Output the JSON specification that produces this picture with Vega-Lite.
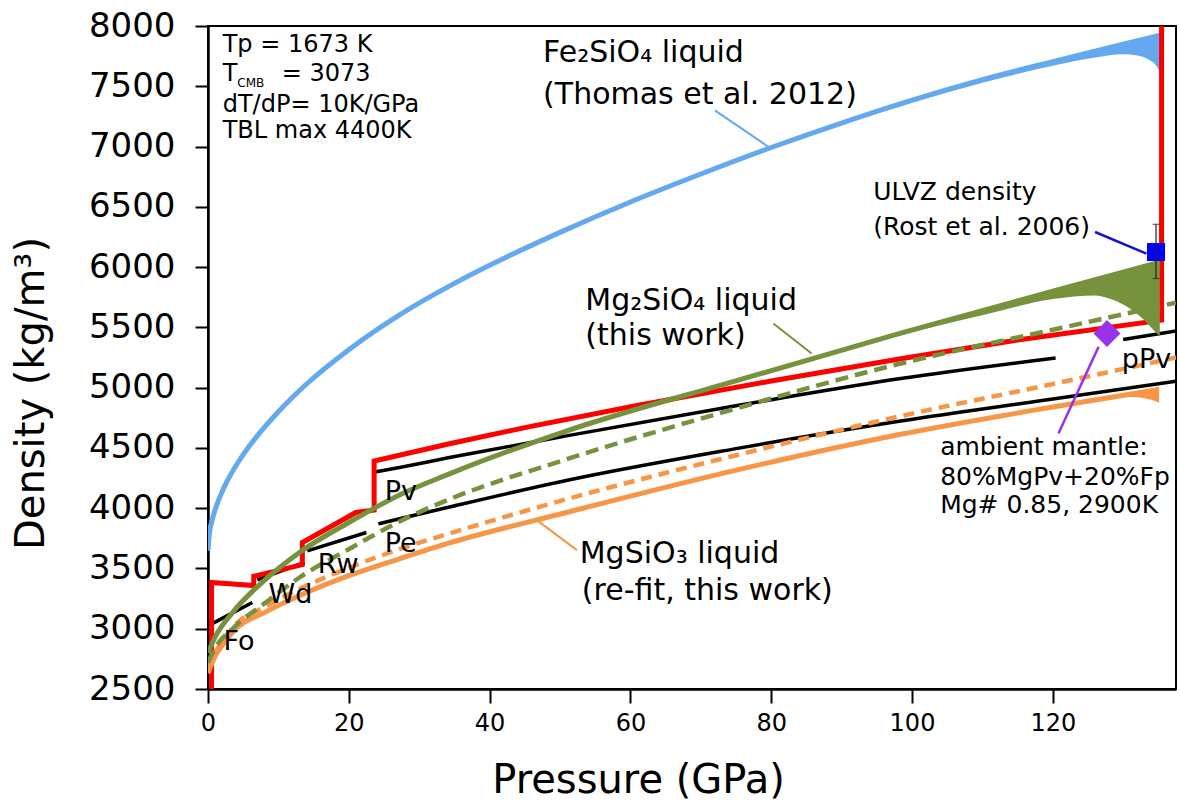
{
  "$schema": "https://vega.github.io/schema/vega-lite/v6.json",
  "width": 968,
  "height": 663,
  "autosize": {"type": "none"},
  "padding": {"left": 208, "top": 26, "right": 4, "bottom": 123},
  "background": "white",
  "config": {
    "view": {"stroke": "black", "strokeWidth": 2},
    "font": "DejaVu Sans",
    "axis": {"grid": false, "domainColor": "black", "tickColor": "black", "labelColor": "black", "titleColor": "black", "labelFont": "DejaVu Sans", "titleFont": "DejaVu Sans", "titleFontWeight": "normal", "domainWidth": 2.5, "tickWidth": 2}
  },
  "datasets": {
    "blue": [{"P":0,"D":3646},{"P":0.2,"D":3790},{"P":0.5,"D":3880},{"P":1,"D":3985},{"P":2,"D":4137},{"P":3.4,"D":4297},{"P":5,"D":4445},{"P":7,"D":4600},{"P":10,"D":4800},{"P":14,"D":5030},{"P":20,"D":5315},{"P":27.1,"D":5600},{"P":35,"D":5865},{"P":40,"D":6015},{"P":50,"D":6288},{"P":60,"D":6540},{"P":70,"D":6772},{"P":80,"D":6992},{"P":90,"D":7195},{"P":100,"D":7385},{"P":110,"D":7555},{"P":120,"D":7705},{"P":130,"D":7850},{"P":135.4,"D":7925}],
    "blueBand": [{"P":80,"D":6994,"D2":6990},{"P":95,"D":7292,"D2":7275},{"P":110,"D":7562,"D2":7530},{"P":120,"D":7715,"D2":7670},{"P":126,"D":7800,"D2":7738},{"P":130,"D":7858,"D2":7765},{"P":132,"D":7882,"D2":7755},{"P":133.5,"D":7900,"D2":7725},{"P":134.5,"D":7912,"D2":7685},{"P":135.1,"D":7920,"D2":7630},{"P":135.4,"D":7926,"D2":7580}],
    "green": [{"P":0,"D":2800},{"P":1,"D":2930},{"P":3.5,"D":3135},{"P":8.2,"D":3411},{"P":13,"D":3633},{"P":20,"D":3881},{"P":27.2,"D":4110},{"P":34.3,"D":4285},{"P":50.9,"D":4640},{"P":74.6,"D":5050},{"P":98.4,"D":5452},{"P":120,"D":5800},{"P":135.2,"D":6040}],
    "greenBand": [{"P":90,"D":5308,"D2":5300},{"P":100,"D":5485,"D2":5460},{"P":110,"D":5648,"D2":5600},{"P":120,"D":5812,"D2":5735},{"P":126,"D":5910,"D2":5765},{"P":128,"D":5940,"D2":5740},{"P":130,"D":5970,"D2":5690},{"P":132,"D":5998,"D2":5610},{"P":133.5,"D":6018,"D2":5530},{"P":134.5,"D":6032,"D2":5465},{"P":135.2,"D":6045,"D2":5425}],
    "greenDash": [{"P":0,"D":2720},{"P":1,"D":2840},{"P":3.5,"D":3000},{"P":8.2,"D":3218},{"P":13,"D":3425},{"P":20,"D":3660},{"P":27.2,"D":3890},{"P":34.3,"D":4074},{"P":50.9,"D":4405},{"P":74.6,"D":4820},{"P":98.4,"D":5200},{"P":120,"D":5480},{"P":137.5,"D":5705}],
    "orange": [{"P":0,"D":2630},{"P":1,"D":2770},{"P":2,"D":2860},{"P":3.5,"D":2972},{"P":8.2,"D":3140},{"P":13,"D":3275},{"P":20,"D":3440},{"P":27.2,"D":3580},{"P":34.3,"D":3712},{"P":50.9,"D":3964},{"P":74.6,"D":4309},{"P":98.4,"D":4613},{"P":120,"D":4840},{"P":135,"D":4985}],
    "orangeBand": [{"P":126,"D":4900,"D2":4898},{"P":130,"D":4945,"D2":4925},{"P":132,"D":4965,"D2":4920},{"P":133.5,"D":4985,"D2":4905},{"P":134.5,"D":4998,"D2":4890},{"P":135.1,"D":5005,"D2":4875}],
    "orangeDash": [{"P":0,"D":2660},{"P":1,"D":2800},{"P":2,"D":2890},{"P":3.5,"D":3010},{"P":8.2,"D":3185},{"P":13,"D":3330},{"P":20,"D":3505},{"P":27.2,"D":3660},{"P":34.3,"D":3790},{"P":50.9,"D":4074},{"P":74.6,"D":4433},{"P":98.4,"D":4764},{"P":120,"D":5030},{"P":137.5,"D":5250}],
    "black": [
      {"seg":"Fo","P":0,"D":3024},{"seg":"Fo","P":6.3,"D":3218},
      {"seg":"Wd","P":7,"D":3405},{"seg":"Wd","P":13.7,"D":3550},
      {"seg":"Rw","P":14.1,"D":3646},{"seg":"Rw","P":22.5,"D":3798},
      {"seg":"Pv","P":23.7,"D":4300},{"seg":"Pv","P":27.2,"D":4338},{"seg":"Pv","P":34.3,"D":4420},{"seg":"Pv","P":50.9,"D":4600},{"seg":"Pv","P":74.6,"D":4845},{"seg":"Pv","P":98.4,"D":5075},{"seg":"Pv","P":120.4,"D":5245},
      {"seg":"Pe","P":24.2,"D":3870},{"seg":"Pe","P":27.2,"D":3912},{"seg":"Pe","P":34.3,"D":4010},{"seg":"Pe","P":50.9,"D":4230},{"seg":"Pe","P":74.6,"D":4490},{"seg":"Pe","P":98.4,"D":4723},{"seg":"Pe","P":120,"D":4905},{"seg":"Pe","P":137.5,"D":5054},
      {"seg":"pPv","P":130,"D":5400},{"seg":"pPv","P":137.5,"D":5470}
    ],
    "red": [{"i":1,"P":0.5,"D":2500},{"i":2,"P":0.5,"D":3384},{"i":3,"P":6.5,"D":3358},{"i":4,"P":6.5,"D":3435},{"i":5,"P":13.4,"D":3532},{"i":6,"P":13.4,"D":3715},{"i":7,"P":21,"D":3964},{"i":8,"P":23.6,"D":3985},{"i":9,"P":23.6,"D":4391},{"i":10,"P":34.3,"D":4535},{"i":11,"P":45,"D":4668},{"i":12,"P":60.4,"D":4845},{"i":13,"P":80,"D":5055},{"i":14,"P":98.4,"D":5240},{"i":15,"P":115,"D":5395},{"i":16,"P":135.45,"D":5560},{"i":17,"P":135.45,"D":8000}],
    "leadBlue": [{"P":72.0,"D":7300,"P2":79.8,"D2":6990}],
    "leadUlvz": [{"P":126.0,"D":6291,"P2":133.3,"D2":6112}],
    "leadGreen": [{"P":80.3,"D":5532,"P2":85.75,"D2":5283}],
    "leadOrange": [{"P":46.7,"D":3901,"P2":52.4,"D2":3652}],
    "leadPurple": [{"P":126.5,"D":5338,"P2":120.8,"D2":4620}],
    "errbar": [{"P":134.66,"D":5905,"D2":6355}],
    "errcap": [{"P":134.66,"D":5905},{"P":134.66,"D":6355}],
    "ulvz": [{"P":134.66,"D":6125}],
    "ambient": [{"P":127.7,"D":5449}],
    "t24": [{"P":2.09,"D":7783,"t":"Tp = 1673 K"},{"P":2.09,"D":7540,"t":"T"},{"P":10.47,"D":7540,"t":"= 3073"},{"P":2.09,"D":7290,"t":"dT/dP= 10K/GPa"},{"P":2.09,"D":7070,"t":"TBL max 4400K"}],
    "t14": [{"P":4.17,"D":7498,"t":"CMB"}],
    "t30": [{"P":47.6,"D":7698,"t":"Fe₂SiO₄ liquid"},{"P":47.6,"D":7350,"t":"(Thomas et al. 2012)"},{"P":53.6,"D":5642,"t":"Mg₂SiO₄ liquid"},{"P":53.6,"D":5352,"t":"(this work)"},{"P":52.8,"D":3542,"t":"MgSiO₃ liquid"},{"P":53.1,"D":3238,"t":"(re-fit, this work)"}],
    "t25": [{"P":94.5,"D":6554,"t":"ULVZ density"},{"P":94.5,"D":6264,"t":"(Rost et al. 2006)"},{"P":104,"D":4440,"t":"ambient mantle:"},{"P":104,"D":4191,"t":"80%MgPv+20%Fp"},{"P":104,"D":3957,"t":"Mg# 0.85, 2900K"}],
    "t27": [{"P":2.2,"D":2823,"t":"Fo"},{"P":8.6,"D":3210,"t":"Wd"},{"P":15.6,"D":3459,"t":"Rw"},{"P":25.1,"D":3638,"t":"Pe"},{"P":25.1,"D":4067,"t":"Pv"},{"P":129.8,"D":5159,"t":"pPv"}]
  },
  "encoding": {
    "x": {"field": "P", "type": "quantitative", "scale": {"domain": [0, 137.5], "nice": false, "zero": false},
      "axis": {"title": "Pressure (GPa)", "values": [0, 20, 40, 60, 80, 100, 120], "labelFontSize": 24, "tickSize": 14, "labelPadding": 8, "titleFontSize": 40, "titleX": 430, "titleY": 103, "titleAlign": "center", "titleBaseline": "alphabetic", "labelFlush": false, "labelOverlap": false}},
    "y": {"field": "D", "type": "quantitative", "scale": {"domain": [2500, 8000], "nice": false, "zero": false},
      "axis": {"title": "Density (kg/m³)", "format": "d", "values": [2500, 3000, 3500, 4000, 4500, 5000, 5500, 6000, 6500, 7000, 7500, 8000], "labelFontSize": 34, "tickSize": 13, "labelPadding": 20, "titleFontSize": 40, "titleX": -165, "titleY": 367, "titleAlign": "center", "titleBaseline": "alphabetic", "labelFlush": false, "labelOverlap": false}}
  },
  "layer": [
    {"data": {"name": "blueBand"}, "mark": {"type": "area", "interpolate": "monotone", "color": "#64a9f0", "clip": true}, "encoding": {"y2": {"field": "D2"}}},
    {"data": {"name": "blue"}, "mark": {"type": "line", "interpolate": "monotone", "color": "#64a9f0", "strokeWidth": 5, "clip": true}, "encoding": {}},
    {"data": {"name": "black"}, "mark": {"type": "line", "interpolate": "monotone", "color": "black", "strokeWidth": 3.5, "clip": true}, "encoding": {"detail": {"field": "seg"}}},
    {"data": {"name": "red"}, "mark": {"type": "line", "color": "#ff0000", "strokeWidth": 5, "clip": true}, "encoding": {"order": {"field": "i"}}},
    {"data": {"name": "orangeBand"}, "mark": {"type": "area", "interpolate": "monotone", "color": "#f79646", "clip": true}, "encoding": {"y2": {"field": "D2"}}},
    {"data": {"name": "orange"}, "mark": {"type": "line", "interpolate": "monotone", "color": "#f79646", "strokeWidth": 5, "clip": true}, "encoding": {}},
    {"data": {"name": "orangeDash"}, "mark": {"type": "line", "interpolate": "monotone", "color": "#f79646", "strokeWidth": 4.5, "strokeDash": [11, 7], "clip": true}, "encoding": {}},
    {"data": {"name": "greenBand"}, "mark": {"type": "area", "interpolate": "monotone", "color": "#76923c", "clip": true}, "encoding": {"y2": {"field": "D2"}}},
    {"data": {"name": "green"}, "mark": {"type": "line", "interpolate": "monotone", "color": "#76923c", "strokeWidth": 5, "clip": true}, "encoding": {}},
    {"data": {"name": "greenDash"}, "mark": {"type": "line", "interpolate": "monotone", "color": "#76923c", "strokeWidth": 4.5, "strokeDash": [13, 7], "clip": true}, "encoding": {}},
    {"data": {"name": "leadBlue"}, "mark": {"type": "rule", "color": "#64a9f0", "strokeWidth": 2}, "encoding": {"x2": {"field": "P2"}, "y2": {"field": "D2"}}},
    {"data": {"name": "leadUlvz"}, "mark": {"type": "rule", "color": "#1414c8", "strokeWidth": 2.5}, "encoding": {"x2": {"field": "P2"}, "y2": {"field": "D2"}}},
    {"data": {"name": "leadGreen"}, "mark": {"type": "rule", "color": "#76923c", "strokeWidth": 2}, "encoding": {"x2": {"field": "P2"}, "y2": {"field": "D2"}}},
    {"data": {"name": "leadOrange"}, "mark": {"type": "rule", "color": "#f79646", "strokeWidth": 2}, "encoding": {"x2": {"field": "P2"}, "y2": {"field": "D2"}}},
    {"data": {"name": "leadPurple"}, "mark": {"type": "rule", "color": "#9933e6", "strokeWidth": 2.5}, "encoding": {"x2": {"field": "P2"}, "y2": {"field": "D2"}}},
    {"data": {"name": "ulvz"}, "mark": {"type": "point", "shape": "square", "filled": true, "color": "#0000ff", "size": 324, "opacity": 1}, "encoding": {}},
    {"data": {"name": "errbar"}, "mark": {"type": "rule", "color": "#222222", "strokeWidth": 1.2}, "encoding": {"y2": {"field": "D2"}}},
    {"data": {"name": "errcap"}, "mark": {"type": "tick", "orient": "horizontal", "color": "#222222", "size": 7, "thickness": 1.2}, "encoding": {}},
    {"data": {"name": "ambient"}, "mark": {"type": "point", "shape": "diamond", "filled": true, "color": "#9933e6", "size": 730, "opacity": 1}, "encoding": {}},
    {"data": {"name": "t24"}, "mark": {"type": "text", "align": "left", "baseline": "alphabetic", "fontSize": 24, "font": "DejaVu Sans", "color": "black"}, "encoding": {"text": {"field": "t"}}},
    {"data": {"name": "t14"}, "mark": {"type": "text", "align": "left", "baseline": "alphabetic", "fontSize": 12, "font": "DejaVu Sans", "color": "black"}, "encoding": {"text": {"field": "t"}}},
    {"data": {"name": "t30"}, "mark": {"type": "text", "align": "left", "baseline": "alphabetic", "fontSize": 30, "font": "DejaVu Sans", "color": "black"}, "encoding": {"text": {"field": "t"}}},
    {"data": {"name": "t25"}, "mark": {"type": "text", "align": "left", "baseline": "alphabetic", "fontSize": 25, "font": "DejaVu Sans", "color": "black"}, "encoding": {"text": {"field": "t"}}},
    {"data": {"name": "t27"}, "mark": {"type": "text", "align": "left", "baseline": "alphabetic", "fontSize": 27, "font": "DejaVu Sans", "color": "black"}, "encoding": {"text": {"field": "t"}}}
  ]
}
